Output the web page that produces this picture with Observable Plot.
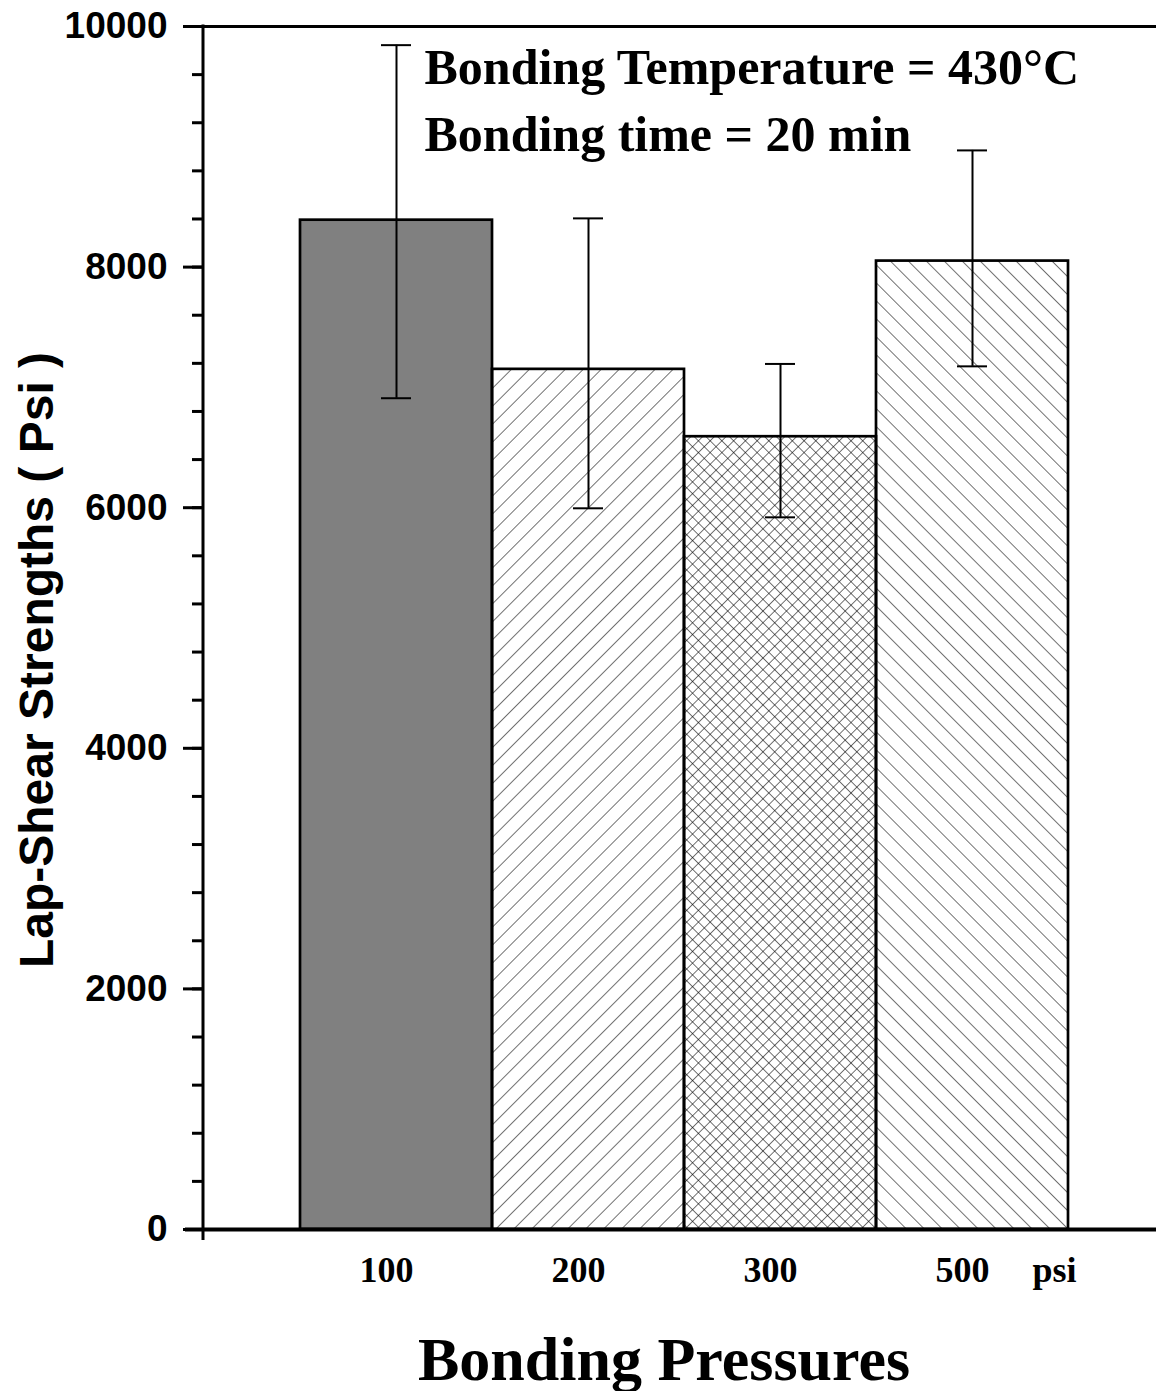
<!DOCTYPE html>
<html>
<head>
<meta charset="utf-8">
<script src="https://cdn.jsdelivr.net/npm/d3@7"></script>
<script src="https://cdn.jsdelivr.net/npm/@observablehq/plot@0.6"></script>
<style>
  html, body { margin: 0; padding: 0; background: #fff; }
</style>
</head>
<body>
<div id="chart"></div>
<script>
// ---- data ----
const pressures = ["100", "200", "300", "500"];
const strengths = [8390, 7150, 6590, 8050];
const errHigh = [9845, 8405, 7195, 8970];
const errLow = [6910, 5995, 5920, 7175];
const yMajorTicks = [0, 2000, 4000, 6000, 8000, 10000];
const yMinorTicks = d3.range(0, 10001, 400);
const unitLabel = ["psi"];
const annotationLines = ["Bonding Temperature = 430°C", "Bonding time = 20 min"];
const xTitle = ["Bonding Pressures"];
const yTitle = ["Lap-Shear Strengths ( Psi )"];

const table = pressures.map((p, i) => ({p, v: strengths[i], hi: errHigh[i], lo: errLow[i]}));

const SANS = "'Liberation Sans', Arial, sans-serif";
const SERIF = "'Liberation Serif', 'Times New Roman', serif";
const NS = "http://www.w3.org/2000/svg";

// custom render mark: pattern defs + left axis line
function decorations(index, scales, values, dimensions) {
  const g = document.createElementNS(NS, "g");
  const defs = document.createElementNS(NS, "defs");
  defs.innerHTML = `
    <pattern id="hatchF" patternUnits="userSpaceOnUse" width="12.7" height="12.7" patternTransform="rotate(45)">
      <line x1="0" y1="-1" x2="0" y2="14" stroke="#000" stroke-width="1.1"/>
    </pattern>
    <pattern id="hatchB" patternUnits="userSpaceOnUse" width="12.7" height="12.7" patternTransform="rotate(-45)">
      <line x1="0" y1="-1" x2="0" y2="14" stroke="#000" stroke-width="1.1"/>
    </pattern>
    <pattern id="cross" patternUnits="userSpaceOnUse" width="8.3" height="8.3" patternTransform="rotate(45)">
      <line x1="0" y1="-1" x2="0" y2="9.3" stroke="#000" stroke-width="1.1"/>
      <line x1="-1" y1="0" x2="9.3" y2="0" stroke="#000" stroke-width="1.1"/>
    </pattern>`;
  g.appendChild(defs);
  const x = dimensions.marginLeft;
  const line = document.createElementNS(NS, "line");
  line.setAttribute("x1", x);
  line.setAttribute("x2", x);
  line.setAttribute("y1", scales.y(10000) - 1.5);
  line.setAttribute("y2", scales.y(0) + 11);
  line.setAttribute("stroke", "#000");
  line.setAttribute("stroke-width", 3);
  g.appendChild(line);
  return g;
}

const chart = Plot.plot({
  width: 1156,
  height: 1391,
  marginLeft: 203,
  marginRight: 0,
  marginTop: 26,
  marginBottom: 162,
  style: {background: "#fff", color: "#000", overflow: "visible"},
  x: {domain: pressures, paddingInner: 0, paddingOuter: 0.48, align: 0.525},
  y: {domain: [0, 10000]},
  color: {domain: pressures, range: ["#808080", "url(#hatchF)", "url(#cross)", "url(#hatchB)"]},
  marks: [
    decorations,
    Plot.barY(table, {x: "p", y: "v", fill: "p", stroke: "#000", strokeWidth: 2.7}),
    Plot.ruleX(table, {x: "p", y1: "lo", y2: "hi", stroke: "#000", strokeWidth: 2}),
    Plot.tickY(table, {x: "p", y: "hi", insetLeft: 81, insetRight: 81, stroke: "#000", strokeWidth: 2}),
    Plot.tickY(table, {x: "p", y: "lo", insetLeft: 81, insetRight: 81, stroke: "#000", strokeWidth: 2}),
    Plot.ruleY([10000], {insetLeft: -20, stroke: "#000", strokeWidth: 3}),
    Plot.ruleY([0], {insetLeft: -18, stroke: "#000", strokeWidth: 4}),
    Plot.axisY({ticks: yMinorTicks, tickSize: 11, tickFormat: () => "", strokeWidth: 3, label: null}),
    Plot.axisY({ticks: yMajorTicks, tickSize: 20, tickPadding: 16, tickFormat: d3.format("d"),
      strokeWidth: 3, label: null, fontSize: 37, fontWeight: "bold", fontFamily: SANS}),
    Plot.axisX({tickSize: 0, tickPadding: 27, label: null, dx: -10,
      fontSize: 36, fontWeight: "bold", fontFamily: SERIF}),
    Plot.text(unitLabel, {text: d => d, frameAnchor: "bottom-right", textAnchor: "middle", lineAnchor: "top",
      dx: -102, dy: 27, fontSize: 36, fontWeight: "bold", fontFamily: SERIF}),
    Plot.text([annotationLines.join("\n")], {text: d => d, frameAnchor: "top-left", textAnchor: "start",
      lineAnchor: "top", dx: 221, dy: 10, lineHeight: 1.34, fontSize: 50, fontWeight: "bold", fontFamily: SERIF}),
    Plot.text(xTitle, {text: d => d, frameAnchor: "bottom", textAnchor: "middle", lineAnchor: "top",
      dx: -16, dy: 106, fontSize: 62, fontWeight: "bold", fontFamily: SERIF}),
    Plot.text(yTitle, {text: d => d, frameAnchor: "left", textAnchor: "middle", lineAnchor: "middle",
      rotate: -90, dx: -166, dy: 32, fontSize: 48, fontWeight: "bold", fontFamily: SANS})
  ]
});

document.getElementById("chart").appendChild(chart);
</script>
</body>
</html>
